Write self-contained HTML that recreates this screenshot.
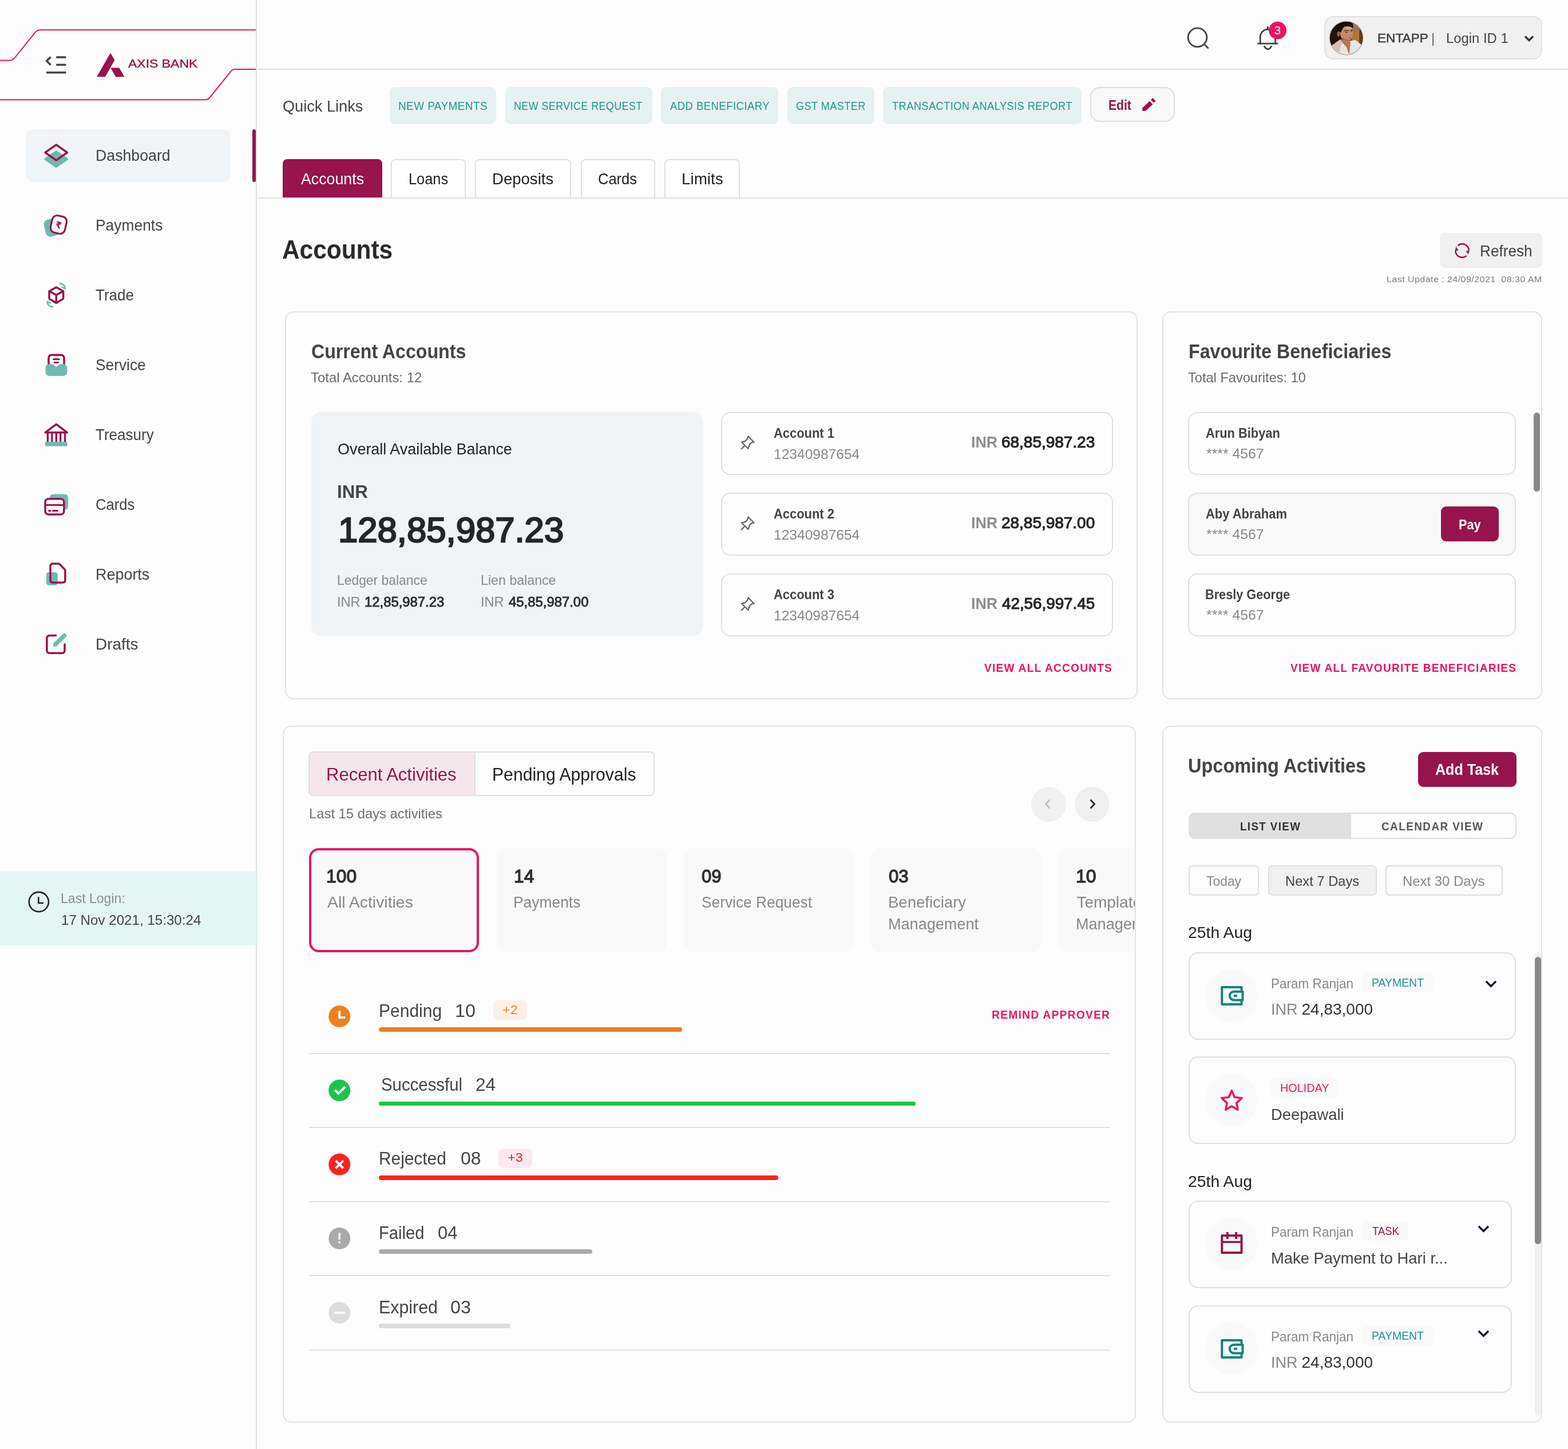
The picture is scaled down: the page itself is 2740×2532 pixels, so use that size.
<!DOCTYPE html>
<html lang="en">
<head>
<meta charset="utf-8">
<title>Axis Bank - Dashboard</title>
<style>
*{box-sizing:border-box;margin:0;padding:0}
html,body{width:2740px;height:2532px;background:#fdfdfd}
body{font-family:"Liberation Sans",sans-serif;position:relative;-webkit-font-smoothing:antialiased}
.b{position:absolute;display:block}
.t{position:absolute;white-space:pre;line-height:1;transform-origin:0 0;display:block;font-weight:400}
svg{overflow:visible}
.clip{position:absolute;overflow:hidden}
</style>
</head>
<body>
<aside aria-label="Sidebar">
<div class="b" style="left:0px;top:1523px;width:450px;height:129px;background:#E4F6F3;"></div>
<div class="b" style="left:447px;top:0px;width:2px;height:2532px;background:#e0e0e0;"></div>
<div class="b" style="left:447px;top:1523px;width:3px;height:129px;background:#dff1ee;"></div>
<div class="b" style="left:45px;top:226px;width:358px;height:92px;background:#F0F4F7;border-radius:14px;"></div>
<div class="b" style="left:440.5px;top:226px;width:6px;height:92px;background:#97144D;border-radius:3px;"></div>
<nav>
<a class="t" style="left:166.69px;top:258px;font-size:28px;color:#444;transform:scaleX(0.9537);">Dashboard</a>
<a class="t" style="left:166.71px;top:380px;font-size:28px;color:#444;transform:scaleX(0.9426);">Payments</a>
<a class="t" style="left:167.00px;top:502px;font-size:28px;color:#444;transform:scaleX(0.9282);">Trade</a>
<a class="t" style="left:167.06px;top:624px;font-size:28px;color:#444;transform:scaleX(0.9396);">Service</a>
<a class="t" style="left:167.00px;top:746px;font-size:28px;color:#444;transform:scaleX(0.9291);">Treasury</a>
<a class="t" style="left:167.08px;top:868px;font-size:28px;color:#444;transform:scaleX(0.9151);">Cards</a>
<a class="t" style="left:166.68px;top:990px;font-size:28px;color:#444;transform:scaleX(0.9621);">Reports</a>
<a class="t" style="left:166.61px;top:1112px;font-size:28px;color:#444;transform:scaleX(0.9972);">Drafts</a>
</nav>
<span class="t" style="left:224.20px;top:101px;font-size:20.8px;color:#97144D;transform:scaleX(1.1055);-webkit-text-stroke:0.4px #97144D;">AXIS BANK</span>
<span class="t" style="left:106.08px;top:1558px;font-size:24px;color:#8a8f8e;transform:scaleX(0.9605);">Last Login:</span>
<span class="t" style="left:106.99px;top:1596px;font-size:24px;color:#444;transform:scaleX(1.0062);">17 Nov 2021, 15:30:24</span>
<svg class="b" style="left:0;top:0" width="2740" height="2532" viewBox="0 0 2740 2532" aria-hidden="true"><g fill="none" stroke="#ED1164" stroke-width="2"><path d="M0 105.4H16.5Q22.2 105.4 25 101.9L62 56.1Q65.1 52.2 70.5 52.2H447"/><path d="M0 174.2H358.5Q363.6 174.2 366.2 171L403.6 124.4Q406.3 121 411 121H447"/></g><g fill="none" stroke="#444" stroke-width="3.6"><path d="M98.2 100H115.4M98.2 113.2H115.4M81 126.7H115.4"/><path d="M88.6 99.6L81.6 106.6L88.6 113.6"/></g><g fill="#97144D"><path d="M193 92.6L200.4 105L183.8 134.2H169Z"/><path d="M193.2 118.6H208.4L217.4 134.2H202.2Z"/></g><path d="M98.3 264.7L117.5 277.9L98.3 291.2L79 277.9Z" fill="#71B8B1" stroke="#71B8B1" stroke-width="3.6" stroke-linejoin="round"/><path d="M98.3 253L117.5 266.5L98.3 280.1L79 266.5Z" fill="none" stroke="#97144D" stroke-width="3.5" stroke-linejoin="round" stroke-linecap="round"/><rect x="78" y="382.5" width="24" height="30.5" rx="8" fill="#71B8B1" transform="rotate(-14 90 397.5)"/><rect x="89.6" y="377.3" width="25.6" height="30.4" rx="8.5" fill="#fdfdfd" stroke="#97144D" stroke-width="3.2" transform="rotate(13 102.4 392.5)"/><text x="102.6" y="399" font-family="DejaVu Sans, sans-serif" font-size="16" font-weight="700" fill="#97144D" text-anchor="middle" transform="rotate(13 102.6 393)">₹</text><path d="M98.3 502L110.6 508.8V521.9L98.3 529.6L86 521.9V508.8ZM86 508.8L98.3 515.5L110.6 508.8M98.3 515.5V529.6" fill="none" stroke="#97144D" stroke-width="3.5" stroke-linejoin="round" stroke-linecap="round"/><g fill="none" stroke="#71B8B1" stroke-width="2.6" stroke-linecap="round" stroke-linejoin="round"><path d="M104.5 495.5Q113.5 496 114 504.5L108.8 501.8"/><path d="M92 536Q83 535.5 82.6 527L87.8 529.7"/></g><path d="M85 642V626.3Q85 620.3 91 620.3H106Q112 620.3 112 626.3V642" fill="none" stroke="#97144D" stroke-width="3.5" stroke-linejoin="round" stroke-linecap="round"/><path d="M93.5 627.8H103.3M95.3 633.4H101.4" fill="none" stroke="#97144D" stroke-width="3" stroke-linecap="round"/><path d="M87.3 636H89.5Q92.5 636 94.5 638Q97.3 641 98.3 641Q99.3 641 102.1 638Q104.1 636 107.1 636H109.4Q117.4 636 117.4 644V649Q117.4 657 109.4 657H87.3Q79.3 657 79.3 649V644Q79.3 636 87.3 636Z" fill="#71B8B1"/><path d="M98.3 741.3L117.3 755.7H79.3Z" fill="none" stroke="#97144D" stroke-width="3.5" stroke-linejoin="round" stroke-linecap="round"/><path d="M83.4 757V772.5M90.8 757V772.5M98.3 757V772.5M105.7 757V772.5M113.5 757V772.5" fill="none" stroke="#97144D" stroke-width="3.3"/><rect x="78.6" y="772.1" width="39.2" height="7.6" rx="2" fill="#71B8B1"/><rect x="86.8" y="863.4" width="32.3" height="27.7" rx="6" fill="#71B8B1"/><rect x="79" y="871.7" width="32.8" height="27.2" rx="5.5" fill="#fdfdfd" stroke="#97144D" stroke-width="3.5"/><path d="M79 882.6H111.8" stroke="#97144D" stroke-width="3" fill="none"/><path d="M85.5 892.5H88.2M92.5 892.5H100.5" stroke="#97144D" stroke-width="3" stroke-linecap="round" fill="none"/><rect x="81" y="999.9" width="19.9" height="22.9" rx="4.5" fill="#71B8B1"/><path d="M92.5 985H101.5Q103.3 985 104.6 986.3L112.6 994.5Q113.9 995.8 113.9 997.6V1013.5Q113.9 1018 109.4 1018H92.5Q88 1018 88 1013.5V989.5Q88 985 92.5 985Z" fill="none" stroke="#97144D" stroke-width="3.5" stroke-linejoin="round" stroke-linecap="round"/><path d="M97.5 1110.5H87Q81.9 1110.5 81.9 1115.6V1136.2Q81.9 1141.3 87 1141.3H108Q113 1141.3 113 1136.2V1125.7" fill="none" stroke="#97144D" stroke-width="3.5" stroke-linejoin="round" stroke-linecap="round"/><path d="M112.5 1110.6L97.3 1125.4" stroke="#71B8B1" stroke-width="7.4" stroke-linecap="round" fill="none"/><path d="M93.3 1129.8L94.6 1122.8L100.2 1128.2Z" fill="#71B8B1" stroke="#71B8B1" stroke-width="1" stroke-linejoin="round"/><g fill="none" stroke="#222" stroke-width="2.6"><circle cx="67.8" cy="1576" r="17.1"/><path d="M67.3 1567.3V1578H76"/></g></svg>
</aside>
<header>
<div class="b" style="left:450px;top:120px;width:2290px;height:2px;background:#e0e0e0;"></div>
<div class="b" style="left:2314px;top:28px;width:381px;height:76px;background:#F0F0F0;border-radius:16px;border:2px solid #e1e1e1;"></div>
<span class="t" style="left:2406.59px;top:56px;font-size:22.5px;color:#444;transform:scaleX(1.0058);-webkit-text-stroke:0.6px #444;">ENTAPP</span>
<span class="t" style="left:2501.00px;top:55px;font-size:24px;color:#666;">|</span>
<span class="t" style="left:2526.57px;top:56px;font-size:23.5px;color:#444;transform:scaleX(1.0144);">Login ID 1</span>
<svg class="b" style="left:0;top:0" width="2740" height="2532" viewBox="0 0 2740 2532" aria-hidden="true"><g fill="none" stroke="#444" stroke-width="2.8" stroke-linecap="round"><circle cx="2092.5" cy="65.5" r="16.4"/><path d="M2104.6 77.6L2110.8 83.8"/></g><g fill="none" stroke="#444" stroke-width="2.8" stroke-linecap="round"><path d="M2198.3 76.1H2232.3"/><path d="M2202.2 76V64.6A13.2 13.2 0 0 1 2228.6 64.6V76"/><path d="M2215.4 47.5V51"/><path d="M2209.3 81.2Q2215.4 90.5 2221.5 81.2"/></g><circle cx="2232.6" cy="53.2" r="15.4" fill="#ED1164"/><defs><clipPath id="av"><circle cx="2352.6" cy="66.5" r="28.8"/></clipPath></defs><circle cx="2352.6" cy="66.5" r="30" fill="#b9b9b9"/><g clip-path="url(#av)"><g transform="translate(2310 26) scale(0.045)"><rect x="200" y="150" width="1500" height="1500" fill="#22130a"/><rect x="1150" y="150" width="550" height="1100" fill="#b0753a"/><rect x="1180" y="490" width="300" height="70" fill="#7d776c"/><rect x="1200" y="610" width="260" height="40" fill="#94805f"/><rect x="1450" y="560" width="140" height="620" fill="#5b3c1f"/><path d="M300 1250L700 960L1130 1000L1300 975L1560 1180L1620 1650H280Z" fill="#e7e5e3"/><path d="M360 1210L700 960L770 1090L640 1560L440 1400Z" fill="#cfc2b6"/><path d="M700 950L1110 1040L1090 1280L1065 1510L1030 1480L960 1260L740 1020Z" fill="#b9794f"/><path d="M820 450Q1000 400 1190 440L1200 720L1185 820L1150 920L1100 1020Q980 1060 900 1010L770 930L720 800L700 700L760 560Z" fill="#c48d6a"/><ellipse cx="1020" cy="520" rx="130" ry="60" fill="#dbab8a" opacity=".85"/><path d="M770 920Q900 1030 1100 1020L1115 960Q950 985 800 870Z" fill="#8a5a3c" opacity=".55"/><ellipse cx="645" cy="740" rx="58" ry="105" fill="#96603f"/><path d="M560 640V450Q640 320 800 290Q1000 250 1190 330L1215 450L1190 520Q1100 430 900 450Q820 470 790 580L730 690L690 650Q640 620 590 670Z" fill="#140d07"/><path d="M860 625Q960 580 1055 612M1110 602Q1160 580 1200 592" fill="none" stroke="#3a2416" stroke-width="26"/><ellipse cx="950" cy="672" rx="45" ry="18" fill="#2a1a10"/><ellipse cx="1150" cy="632" rx="30" ry="14" fill="#2a1a10"/><ellipse cx="1100" cy="900" rx="58" ry="22" fill="#a0574a"/></g></g><path d="M2665 63.5L2672 70.5L2679 63.5" fill="none" stroke="#333" stroke-width="3.4"/></svg>
<span class="t" style="left:2226.60px;top:42px;font-size:21px;color:#fff;">3</span>
</header>
<section aria-label="Quick Links">
<h2 class="t" style="left:494.13px;top:172px;font-size:28px;color:#444;transform:scaleX(0.9699);">Quick Links</h2>
<div class="b" style="left:681px;top:152px;width:186px;height:65px;background:#E6F2F1;border-radius:9px;"></div>
<a class="t" style="left:696.13px;top:176px;font-size:19.5px;color:#1E968A;letter-spacing:0.5px;transform:scaleX(0.9673);">NEW PAYMENTS</a>
<div class="b" style="left:883px;top:152px;width:256.5px;height:65px;background:#E6F2F1;border-radius:9px;"></div>
<a class="t" style="left:897.88px;top:176px;font-size:19.5px;color:#1E968A;letter-spacing:0.5px;transform:scaleX(0.9156);">NEW SERVICE REQUEST</a>
<div class="b" style="left:1155px;top:152px;width:205px;height:65px;background:#E6F2F1;border-radius:9px;"></div>
<a class="t" style="left:1170.50px;top:176px;font-size:19.5px;color:#1E968A;letter-spacing:0.5px;transform:scaleX(0.9464);">ADD BENEFICIARY</a>
<div class="b" style="left:1376px;top:152px;width:152px;height:65px;background:#E6F2F1;border-radius:9px;"></div>
<a class="t" style="left:1390.67px;top:176px;font-size:19.5px;color:#1E968A;letter-spacing:0.5px;transform:scaleX(0.9256);">GST MASTER</a>
<div class="b" style="left:1543px;top:152px;width:346.5px;height:65px;background:#E6F2F1;border-radius:9px;"></div>
<a class="t" style="left:1559.30px;top:176px;font-size:19.5px;color:#1E968A;letter-spacing:0.5px;transform:scaleX(0.9320);">TRANSACTION ANALYSIS REPORT</a>
<div class="b" style="left:1905px;top:152px;width:148px;height:61px;background:#F9F9F9;border-radius:17px;border:2px solid #dedede;"></div>
<span class="t" style="left:1937.12px;top:172px;font-size:24px;color:#97144D;font-weight:700;transform:scaleX(0.8795);">Edit</span>
<svg class="b" style="left:0;top:0" width="2740" height="2532" viewBox="0 0 2740 2532" aria-hidden="true"><g fill="#97144D"><path d="M1996.2 193.8V188.5L2009 176.6L2014.4 182.2L2002 193.8Z"/><path d="M2011 174.5L2014.2 171.2L2019.4 176.3L2016.2 179.6Z"/></g></svg>
</section>
<nav aria-label="Product tabs">
<div class="b" style="left:494px;top:278px;width:174px;height:67px;background:#97144D;border-radius:8px 8px 0 0;"></div>
<a class="t" style="left:526.10px;top:299px;font-size:28px;color:#fff;transform:scaleX(0.9557);">Accounts</a>
<div class="b" style="left:683px;top:278px;width:131px;height:67px;background:#fff;border-radius:8px 8px 0 0;border:2px solid #e0e0e0;border-bottom:none;"></div>
<a class="t" style="left:713.59px;top:299px;font-size:28px;color:#222;transform:scaleX(0.9054);">Loans</a>
<div class="b" style="left:830px;top:278px;width:168px;height:67px;background:#fff;border-radius:8px 8px 0 0;border:2px solid #e0e0e0;border-bottom:none;"></div>
<a class="t" style="left:859.53px;top:299px;font-size:28px;color:#222;transform:scaleX(0.9840);">Deposits</a>
<div class="b" style="left:1015px;top:278px;width:130px;height:67px;background:#fff;border-radius:8px 8px 0 0;border:2px solid #e0e0e0;border-bottom:none;"></div>
<a class="t" style="left:1045.09px;top:299px;font-size:28px;color:#222;transform:scaleX(0.9110);">Cards</a>
<div class="b" style="left:1161px;top:278px;width:132px;height:67px;background:#fff;border-radius:8px 8px 0 0;border:2px solid #e0e0e0;border-bottom:none;"></div>
<a class="t" style="left:1190.61px;top:299px;font-size:28px;color:#222;transform:scaleX(0.9929);">Limits</a>
<div class="b" style="left:450px;top:345px;width:2290px;height:2px;background:#e0e0e0;"></div>
</nav>
<main>
<h1 class="t" style="left:493.08px;top:413px;font-size:46px;color:#2a2a2a;font-weight:700;transform:scaleX(0.9217);">Accounts</h1>
<div class="b" style="left:2516px;top:406.6px;width:179px;height:61.4px;background:#F0F0F0;border-radius:9px;"></div>
<span class="t" style="left:2585.63px;top:425px;font-size:28px;color:#444;transform:scaleX(0.9347);">Refresh</span>
<span class="t" style="left:2422.76px;top:480px;font-size:15.5px;color:#7c7c7c;letter-spacing:0.4px;transform:scaleX(1.0377);">Last Update : 24/09/2021  08:30 AM</span>
<svg class="b" style="left:0;top:0" width="2740" height="2532" viewBox="0 0 2740 2532" aria-hidden="true"><g fill="none" stroke="#97144D" stroke-width="2.5"><path d="M2547.6 429A11.7 11.7 0 0 1 2566.8 438"/><path d="M2562.6 447A11.7 11.7 0 0 1 2543.4 438"/></g><g fill="#97144D"><path d="M2561.7 438.2H2567.8L2565.3 444.6Z"/><path d="M2542.5 438H2548.5L2544.4 431.1Z"/></g></svg>
<section aria-label="Current Accounts">
<div class="b" style="left:498px;top:544px;width:1490px;height:678px;background:#fdfdfd;border-radius:15px;border:2px solid #e2e2e2;"></div>
<h2 class="t" style="left:543.58px;top:596px;font-size:35px;color:#444;font-weight:700;transform:scaleX(0.9185);">Current Accounts</h2>
<span class="t" style="left:543.40px;top:648px;font-size:24px;color:#6a6a6a;transform:scaleX(0.9974);">Total Accounts: 12</span>
<div class="b" style="left:544px;top:720px;width:685px;height:391px;background:#F0F4F7;border-radius:16px;"></div>
<span class="t" style="left:590.02px;top:771px;font-size:27.5px;color:#222;transform:scaleX(0.9790);">Overall Available Balance</span>
<span class="t" style="left:589.35px;top:844px;font-size:30.5px;color:#444;font-weight:700;transform:scaleX(1.0240);">INR</span>
<span class="t" style="left:590.56px;top:896px;font-size:61px;color:#262626;transform:scaleX(1.0104);-webkit-text-stroke:2.4px #262626;">128,85,987.23</span>
<span class="t" style="left:589.09px;top:1002px;font-size:24px;color:#888;transform:scaleX(0.9528);">Ledger balance</span>
<span class="t" style="left:589.04px;top:1040px;font-size:24px;color:#888;transform:scaleX(0.9816);">INR</span>
<span class="t" style="left:637.39px;top:1041px;font-size:23.5px;color:#303030;transform:scaleX(1.0147);-webkit-text-stroke:0.95px #303030;">12,85,987.23</span>
<span class="t" style="left:840.07px;top:1002px;font-size:24px;color:#888;transform:scaleX(0.9662);">Lien balance</span>
<span class="t" style="left:840.04px;top:1040px;font-size:24px;color:#888;transform:scaleX(0.9816);">INR</span>
<span class="t" style="left:888.80px;top:1041px;font-size:23.5px;color:#303030;transform:scaleX(1.0161);-webkit-text-stroke:0.95px #303030;">45,85,987.00</span>
<div class="b" style="left:1260px;top:720px;width:685px;height:110px;background:#fdfdfd;border-radius:16px;border:2px solid #e0e0e0;"></div>
<span class="t" style="left:1352.00px;top:745px;font-size:24px;color:#444;font-weight:700;transform:scaleX(0.9129);">Account 1</span>
<span class="t" style="left:1351.98px;top:782px;font-size:24px;color:#888;transform:scaleX(1.0233);">12340987654</span>
<span class="t" style="left:1697.44px;top:759px;font-size:28px;color:#8e8e8e;font-weight:700;transform:scaleX(0.9596);">INR</span>
<span class="t" style="left:1750.38px;top:759px;font-size:27.5px;color:#262626;transform:scaleX(1.0164);-webkit-text-stroke:1.1px #262626;">68,85,987.23</span>
<div class="b" style="left:1260px;top:861px;width:685px;height:110px;background:#fdfdfd;border-radius:16px;border:2px solid #e0e0e0;"></div>
<span class="t" style="left:1352.00px;top:886px;font-size:24px;color:#444;font-weight:700;transform:scaleX(0.9129);">Account 2</span>
<span class="t" style="left:1351.98px;top:923px;font-size:24px;color:#888;transform:scaleX(1.0233);">12340987654</span>
<span class="t" style="left:1697.44px;top:900px;font-size:28px;color:#8e8e8e;font-weight:700;transform:scaleX(0.9596);">INR</span>
<span class="t" style="left:1750.38px;top:900px;font-size:27.5px;color:#262626;transform:scaleX(1.0164);-webkit-text-stroke:1.1px #262626;">28,85,987.00</span>
<div class="b" style="left:1260px;top:1002px;width:685px;height:110px;background:#fdfdfd;border-radius:16px;border:2px solid #e0e0e0;"></div>
<span class="t" style="left:1352.00px;top:1027px;font-size:24px;color:#444;font-weight:700;transform:scaleX(0.9129);">Account 3</span>
<span class="t" style="left:1351.98px;top:1064px;font-size:24px;color:#888;transform:scaleX(1.0233);">12340987654</span>
<span class="t" style="left:1697.44px;top:1041px;font-size:28px;color:#8e8e8e;font-weight:700;transform:scaleX(0.9596);">INR</span>
<span class="t" style="left:1751.40px;top:1041px;font-size:27.5px;color:#262626;transform:scaleX(1.0100);-webkit-text-stroke:1.1px #262626;">42,56,997.45</span>
<svg class="b" style="left:0;top:0" width="2740" height="2532" viewBox="0 0 2740 2532" aria-hidden="true"><g transform="translate(0 0)" fill="none" stroke="#666" stroke-width="2.3" stroke-linejoin="round" stroke-linecap="round"><path d="M1307.4 762.4L1317.6 772.7Q1312 772.6 1309.4 778Q1308.5 781.5 1307.4 784L1296 772.7Q1301 772 1303.5 770Q1306.8 767 1307.4 762.4Z"/><path d="M1301.5 778.5L1295.6 784.4"/></g><g transform="translate(0 141)" fill="none" stroke="#666" stroke-width="2.3" stroke-linejoin="round" stroke-linecap="round"><path d="M1307.4 762.4L1317.6 772.7Q1312 772.6 1309.4 778Q1308.5 781.5 1307.4 784L1296 772.7Q1301 772 1303.5 770Q1306.8 767 1307.4 762.4Z"/><path d="M1301.5 778.5L1295.6 784.4"/></g><g transform="translate(0 282)" fill="none" stroke="#666" stroke-width="2.3" stroke-linejoin="round" stroke-linecap="round"><path d="M1307.4 762.4L1317.6 772.7Q1312 772.6 1309.4 778Q1308.5 781.5 1307.4 784L1296 772.7Q1301 772 1303.5 770Q1306.8 767 1307.4 762.4Z"/><path d="M1301.5 778.5L1295.6 784.4"/></g></svg>
<a class="t" style="left:1719.90px;top:1157px;font-size:20px;color:#ED1164;font-weight:700;letter-spacing:1.3px;transform:scaleX(0.9549);">VIEW ALL ACCOUNTS</a>
</section>
<section aria-label="Favourite Beneficiaries">
<div class="b" style="left:2031px;top:544px;width:664px;height:678px;background:#fdfdfd;border-radius:15px;border:2px solid #e2e2e2;"></div>
<h2 class="t" style="left:2076.96px;top:596px;font-size:35px;color:#444;font-weight:700;transform:scaleX(0.9202);">Favourite Beneficiaries</h2>
<span class="t" style="left:2076.00px;top:648px;font-size:24px;color:#6a6a6a;transform:scaleX(0.9833);">Total Favourites: 10</span>
<div class="b" style="left:2076px;top:720px;width:573px;height:110px;background:#fdfdfd;border-radius:16px;border:2px solid #e0e0e0;"></div>
<span class="t" style="left:2107.00px;top:745px;font-size:24px;color:#444;font-weight:700;transform:scaleX(0.9099);">Arun Bibyan</span>
<span class="t" style="left:2108.30px;top:781px;font-size:24px;color:#888;transform:scaleX(1.0330);">**** 4567</span>
<div class="b" style="left:2076px;top:861px;width:573px;height:110px;background:#F9F9F9;border-radius:16px;border:2px solid #e0e0e0;"></div>
<span class="t" style="left:2107.00px;top:886px;font-size:24px;color:#444;font-weight:700;transform:scaleX(0.9149);">Aby Abraham</span>
<span class="t" style="left:2108.30px;top:922px;font-size:24px;color:#888;transform:scaleX(1.0330);">**** 4567</span>
<div class="b" style="left:2076px;top:1002px;width:573px;height:110px;background:#fdfdfd;border-radius:16px;border:2px solid #e0e0e0;"></div>
<span class="t" style="left:2106.10px;top:1027px;font-size:24px;color:#444;font-weight:700;transform:scaleX(0.9031);">Bresly George</span>
<span class="t" style="left:2108.30px;top:1063px;font-size:24px;color:#888;transform:scaleX(1.0330);">**** 4567</span>
<div class="b" style="left:2518px;top:885px;width:101px;height:61px;background:#97144D;border-radius:9px;"></div>
<span class="t" style="left:2548.70px;top:905px;font-size:24px;color:#fff;font-weight:700;transform:scaleX(0.9048);">Pay</span>
<div class="b" style="left:2680px;top:721px;width:11px;height:138px;background:#888;border-radius:5.5px;"></div>
<a class="t" style="left:2254.60px;top:1157px;font-size:20px;color:#ED1164;font-weight:700;letter-spacing:1.3px;transform:scaleX(0.9530);">VIEW ALL FAVOURITE BENEFICIARIES</a>
</section>
<section aria-label="Recent Activities">
<div class="b" style="left:494px;top:1268px;width:1491px;height:1218px;background:#fdfdfd;border-radius:15px;border:2px solid #e2e2e2;"></div>
<div class="b" style="left:539px;top:1313px;width:605px;height:78px;background:#fdfdfd;border-radius:8px;border:2px solid #dfdfdf;"></div>
<div class="b" style="left:540.5px;top:1314.5px;width:288.5px;height:75px;background:#F5E6EC;border-radius:6px 0 0 6px;"></div>
<div class="b" style="left:828.5px;top:1314px;width:2px;height:76px;background:#dfdfdf;"></div>
<span class="t" style="left:570.03px;top:1338px;font-size:31.5px;color:#97144D;transform:scaleX(0.9846);">Recent Activities</span>
<span class="t" style="left:859.89px;top:1338px;font-size:31.5px;color:#222;transform:scaleX(0.9573);">Pending Approvals</span>
<span class="t" style="left:539.82px;top:1410px;font-size:24px;color:#6e6e6e;transform:scaleX(0.9918);">Last 15 days activities</span>
<div class="b" style="left:1801.5px;top:1374.5px;width:61px;height:61px;background:#F0F0F0;border-radius:31px;"></div>
<div class="b" style="left:1878px;top:1374.5px;width:61px;height:61px;background:#F0F0F0;border-radius:31px;"></div>
<svg class="b" style="left:0;top:0" width="2740" height="2532" viewBox="0 0 2740 2532" aria-hidden="true"><path d="M1834.5 1397.5L1827.5 1405L1834.5 1412.5" fill="none" stroke="#bbb" stroke-width="2.6"/><path d="M1905.5 1397.5L1912.5 1405L1905.5 1412.5" fill="none" stroke="#222" stroke-width="2.6"/></svg>
<div class="b" style="left:540.3px;top:1481.5px;width:297px;height:182px;background:#F9F9F9;border-radius:17px;border:4px solid #ED1164;"></div>
<span class="t" style="left:570.48px;top:1516px;font-size:31.5px;color:#303030;transform:scaleX(1.0120);-webkit-text-stroke:1.3px #303030;">100</span>
<span class="t" style="left:572.10px;top:1563px;font-size:28px;color:#888;transform:scaleX(1.0136);">All Activities</span>
<div class="b" style="left:867.5px;top:1481.5px;width:297px;height:182px;background:#F9F9F9;border-radius:17px;"></div>
<span class="t" style="left:897.69px;top:1516px;font-size:31.5px;color:#303030;transform:scaleX(1.0062);-webkit-text-stroke:1.3px #303030;">14</span>
<span class="t" style="left:897.41px;top:1563px;font-size:28px;color:#888;transform:scaleX(0.9426);">Payments</span>
<div class="b" style="left:1194.6999999999998px;top:1481.5px;width:297px;height:182px;background:#F9F9F9;border-radius:17px;"></div>
<span class="t" style="left:1225.91px;top:1516px;font-size:31.5px;color:#303030;transform:scaleX(0.9879);-webkit-text-stroke:1.3px #303030;">09</span>
<span class="t" style="left:1225.56px;top:1563px;font-size:28px;color:#888;transform:scaleX(0.9395);">Service Request</span>
<div class="b" style="left:1521.8999999999999px;top:1481.5px;width:297px;height:182px;background:#F9F9F9;border-radius:17px;"></div>
<span class="t" style="left:1553.11px;top:1516px;font-size:31.5px;color:#303030;transform:scaleX(0.9879);-webkit-text-stroke:1.3px #303030;">03</span>
<span class="t" style="left:1551.74px;top:1563px;font-size:28px;color:#888;transform:scaleX(0.9825);">Beneficiary</span>
<span class="t" style="left:1551.77px;top:1601px;font-size:28px;color:#888;transform:scaleX(0.9667);">Management</span>
<div class="clip" style="left:1849px;top:1481px;width:134px;height:183px">
<div class="b" style="left:0px;top:0.5px;width:297px;height:182px;background:#F9F9F9;border-radius:17px;"></div>
<span class="t" style="left:30.76px;top:35px;font-size:31.5px;color:#303030;transform:scaleX(1.0188);-webkit-text-stroke:1.3px #303030;">10</span>
<span class="t" style="left:32.40px;top:82px;font-size:28px;color:#888;">Template</span>
<span class="t" style="left:30.67px;top:120px;font-size:28px;color:#888;transform:scaleX(0.9667);">Management</span>
</div>
<span class="t" style="left:661.86px;top:1751px;font-size:31px;color:#444;transform:scaleX(0.9682);">Pending</span>
<span class="t" style="left:794.92px;top:1751px;font-size:31px;color:#444;transform:scaleX(1.0406);">10</span>
<div class="b" style="left:862px;top:1748px;width:59px;height:34px;background:#FDF0E8;border-radius:8px;"></div>
<span class="t" style="left:878.18px;top:1754px;font-size:22px;color:#EE8022;transform:scaleX(1.0652);">+2</span>
<div class="b" style="left:662px;top:1795.2px;width:529.5px;height:7.6px;background:#EE8022;border-radius:4px;"></div>
<div class="b" style="left:540px;top:1840px;width:1399.5px;height:2px;background:#e0e0e0;"></div>
<span class="t" style="left:666.05px;top:1880px;font-size:31px;color:#444;transform:scaleX(0.9476);">Successful</span>
<span class="t" style="left:831.18px;top:1880px;font-size:31px;color:#444;transform:scaleX(1.0212);">24</span>
<div class="b" style="left:662px;top:1924.6000000000001px;width:938px;height:7.6px;background:#1FC24E;border-radius:4px;"></div>
<div class="b" style="left:540px;top:1969.4px;width:1399.5px;height:2px;background:#e0e0e0;"></div>
<span class="t" style="left:661.88px;top:2009px;font-size:31px;color:#444;transform:scaleX(0.9622);">Rejected</span>
<span class="t" style="left:804.77px;top:2009px;font-size:31px;color:#444;transform:scaleX(1.0281);">08</span>
<div class="b" style="left:871px;top:2006.8px;width:59px;height:34px;background:#FCE9ED;border-radius:8px;"></div>
<span class="t" style="left:887.18px;top:2012px;font-size:22px;color:#F0202A;transform:scaleX(1.0652);">+3</span>
<div class="b" style="left:662px;top:2054.0px;width:698px;height:7.6px;background:#FF2121;border-radius:4px;"></div>
<div class="b" style="left:540px;top:2098.8px;width:1399.5px;height:2px;background:#e0e0e0;"></div>
<span class="t" style="left:661.92px;top:2139px;font-size:31px;color:#444;transform:scaleX(0.9395);">Failed</span>
<span class="t" style="left:764.80px;top:2139px;font-size:31px;color:#444;transform:scaleX(0.9970);">04</span>
<div class="b" style="left:662px;top:2183.2px;width:373px;height:7.6px;background:#AAAAAA;border-radius:4px;"></div>
<div class="b" style="left:540px;top:2228px;width:1399.5px;height:2px;background:#e0e0e0;"></div>
<span class="t" style="left:661.84px;top:2269px;font-size:31px;color:#444;transform:scaleX(0.9792);">Expired</span>
<span class="t" style="left:787.16px;top:2269px;font-size:31px;color:#444;transform:scaleX(1.0406);">03</span>
<div class="b" style="left:662px;top:2313.2px;width:230px;height:7.6px;background:#DDDDDD;border-radius:4px;"></div>
<div class="b" style="left:540px;top:2358px;width:1399.5px;height:2px;background:#e0e0e0;"></div>
<svg class="b" style="left:0;top:0" width="2740" height="2532" viewBox="0 0 2740 2532" aria-hidden="true"><circle cx="593.2" cy="1776" r="19" fill="#EE8022"/><circle cx="593.2" cy="1905.4" r="19" fill="#1FC24E"/><circle cx="593.2" cy="2034.8" r="19" fill="#FF2121"/><circle cx="593.2" cy="2164" r="19" fill="#AAAAAA"/><circle cx="593.2" cy="2294" r="19" fill="#DDDDDD"/><path d="M593.2 1766.2V1778.1H603.2" fill="none" stroke="#fff" stroke-width="4"/><path d="M585.3 1904.7L591.4 1910.6L603.2 1898.8" fill="none" stroke="#fff" stroke-width="4"/><path d="M586.6 2028.2L599.8 2041.4M599.8 2028.2L586.6 2041.4" fill="none" stroke="#fff" stroke-width="4"/><path d="M593.2 2154.5V2166" fill="none" stroke="#fff" stroke-width="3.2"/><rect x="591.6" y="2169" width="3.2" height="3.4" fill="#fff"/><path d="M583.7 2294H602.7" fill="none" stroke="#fff" stroke-width="3.6"/></svg>
<a class="t" style="left:1732.94px;top:1763px;font-size:20px;color:#ED1164;font-weight:700;letter-spacing:1.3px;transform:scaleX(0.9620);">REMIND APPROVER</a>
</section>
<section aria-label="Upcoming Activities">
<div class="b" style="left:2031px;top:1268px;width:664px;height:1218px;background:#fdfdfd;border-radius:15px;border:2px solid #e2e2e2;"></div>
<h2 class="t" style="left:2076.14px;top:1320px;font-size:35px;color:#444;font-weight:700;transform:scaleX(0.9283);">Upcoming Activities</h2>
<div class="b" style="left:2478px;top:1313.5px;width:171.5px;height:61px;background:#97144D;border-radius:9px;"></div>
<span class="t" style="left:2507.62px;top:1330px;font-size:28.5px;color:#fff;font-weight:700;transform:scaleX(0.8800);">Add Task</span>
<div class="b" style="left:2077px;top:1420px;width:572.5px;height:45.5px;background:#fdfdfd;border-radius:11px;border:2px solid #dedede;"></div>
<div class="b" style="left:2077px;top:1420px;width:284px;height:45.5px;background:#E0E0E0;border-radius:11px 4px 4px 11px;"></div>
<span class="t" style="left:2166.56px;top:1434px;font-size:20px;color:#333;font-weight:700;letter-spacing:1.5px;transform:scaleX(0.9369);">LIST VIEW</span>
<span class="t" style="left:2414.45px;top:1434px;font-size:20px;color:#555;font-weight:700;letter-spacing:1.5px;transform:scaleX(0.9468);">CALENDAR VIEW</span>
<div class="b" style="left:2077px;top:1512px;width:123px;height:52.5px;background:#fdfdfd;border-radius:7px;border:2px solid #dedede;"></div>
<div class="b" style="left:2215.5px;top:1512px;width:190px;height:52.5px;background:#F0F0F0;border-radius:7px;border:2px solid #dedede;"></div>
<div class="b" style="left:2421px;top:1512px;width:205px;height:52.5px;background:#fdfdfd;border-radius:7px;border:2px solid #dedede;"></div>
<span class="t" style="left:2108.30px;top:1528px;font-size:24px;color:#888;transform:scaleX(0.9531);">Today</span>
<span class="t" style="left:2245.82px;top:1528px;font-size:24px;color:#444;transform:scaleX(0.9883);">Next 7 Days</span>
<span class="t" style="left:2451.11px;top:1528px;font-size:24px;color:#888;transform:scaleX(0.9965);">Next 30 Days</span>
<span class="t" style="left:2076.35px;top:1617px;font-size:27px;color:#222;transform:scaleX(1.0500);">25th Aug</span>
<span class="t" style="left:2076.35px;top:2052px;font-size:27px;color:#222;transform:scaleX(1.0500);">25th Aug</span>
<div class="b" style="left:2682px;top:1664px;width:11px;height:810px;background:#F0F0F0;border-radius:5.5px;"></div>
<div class="b" style="left:2682px;top:1671.5px;width:11px;height:502px;background:#888;border-radius:5.5px;"></div>
<div class="b" style="left:2077px;top:1663.5px;width:572px;height:153px;background:#fdfdfd;border-radius:17px;border:2px solid #e0e0e0;"></div>
<div class="b" style="left:2107px;top:1694.0px;width:91px;height:91px;background:#F9F9F9;border-radius:46px;"></div>
<span class="t" style="left:2221.12px;top:1707px;font-size:24px;color:#888;transform:scaleX(0.9387);">Param Ranjan</span>
<div class="b" style="left:2381px;top:1700.0px;width:123.3px;height:33.5px;background:#F9F9F9;border-radius:7px;"></div>
<span class="t" style="left:2396.63px;top:1707px;font-size:20px;color:#1E968A;transform:scaleX(0.9710);">PAYMENT</span>
<span class="t" style="left:2221.07px;top:1750px;font-size:28px;color:#888;transform:scaleX(0.9644);">INR</span>
<span class="t" style="left:2274.50px;top:1750px;font-size:28px;color:#333;">24,83,000</span>
<div class="b" style="left:2077px;top:1846px;width:572px;height:153px;background:#fdfdfd;border-radius:17px;border:2px solid #e0e0e0;"></div>
<div class="b" style="left:2107px;top:1876.5px;width:91px;height:91px;background:#F9F9F9;border-radius:46px;"></div>
<div class="b" style="left:2221px;top:1883px;width:118px;height:34px;background:#F9F9F9;border-radius:7px;"></div>
<span class="t" style="left:2236.81px;top:1891px;font-size:20px;color:#ED1164;transform:scaleX(0.9918);">HOLIDAY</span>
<span class="t" style="left:2221.05px;top:1934px;font-size:28px;color:#444;transform:scaleX(0.9764);">Deepawali</span>
<div class="b" style="left:2077px;top:2097.5px;width:564.5px;height:153px;background:#fdfdfd;border-radius:17px;border:2px solid #e0e0e0;"></div>
<div class="b" style="left:2107px;top:2128.0px;width:91px;height:91px;background:#F9F9F9;border-radius:46px;"></div>
<span class="t" style="left:2221.12px;top:2141px;font-size:24px;color:#888;transform:scaleX(0.9387);">Param Ranjan</span>
<div class="b" style="left:2381px;top:2134.0px;width:80.0px;height:33.5px;background:#F9F9F9;border-radius:7px;"></div>
<span class="t" style="left:2397.60px;top:2141px;font-size:20px;color:#97144D;transform:scaleX(0.9216);">TASK</span>
<span class="t" style="left:2221.04px;top:2185px;font-size:28px;color:#444;transform:scaleX(0.9776);">Make Payment to Hari r...</span>
<div class="b" style="left:2077px;top:2280.5px;width:564.5px;height:153px;background:#fdfdfd;border-radius:17px;border:2px solid #e0e0e0;"></div>
<div class="b" style="left:2107px;top:2311.0px;width:91px;height:91px;background:#F9F9F9;border-radius:46px;"></div>
<span class="t" style="left:2221.12px;top:2324px;font-size:24px;color:#888;transform:scaleX(0.9387);">Param Ranjan</span>
<div class="b" style="left:2381px;top:2317.0px;width:123.3px;height:33.5px;background:#F9F9F9;border-radius:7px;"></div>
<span class="t" style="left:2396.63px;top:2324px;font-size:20px;color:#1E968A;transform:scaleX(0.9710);">PAYMENT</span>
<span class="t" style="left:2221.07px;top:2367px;font-size:28px;color:#888;transform:scaleX(0.9644);">INR</span>
<span class="t" style="left:2274.50px;top:2367px;font-size:28px;color:#333;">24,83,000</span>
<svg class="b" style="left:0;top:0" width="2740" height="2532" viewBox="0 0 2740 2532" aria-hidden="true"><path d="M2596.8 1714.7L2605.4 1723.3L2614.0 1714.7" fill="none" stroke="#111827" stroke-width="3.4"/><g transform="translate(0 0.0)" fill="none" stroke="#10857B" stroke-width="4" stroke-linejoin="round"><rect x="2135.3" y="1725" width="34.2" height="30"/><path d="M2171.5 1732.7H2156.2A7.35 7.35 0 0 0 2156.2 1747.4H2171.5Z" fill="#fdfdfd"/><rect x="2156" y="1738.2" width="6" height="3.8" fill="#10857B" stroke="none"/></g><path d="M2152.4 1905.6L2157.3 1917.3L2169.9 1918.7L2160.8 1927.4L2162.9 1939.3L2152.4 1933L2141.9 1939.3L2144 1927.4L2134.9 1918.7L2147.5 1917.3Z" fill="none" stroke="#ED1164" stroke-width="3.6" stroke-linejoin="round"/><path d="M2583.8 2142.7L2592.4 2151.3L2601.0 2142.7" fill="none" stroke="#111827" stroke-width="3.4"/><g fill="none" stroke="#97144D" stroke-width="4" stroke-linejoin="round"><rect x="2135.3" y="2159" width="34.2" height="30.1"/><path d="M2135.3 2170.2H2169.5" stroke-width="3.6"/><path d="M2144.8 2153V2165M2160.1 2153V2165"/></g><path d="M2583.8 2325.7L2592.4 2334.3L2601.0 2325.7" fill="none" stroke="#111827" stroke-width="3.4"/><g transform="translate(0 617.0)" fill="none" stroke="#10857B" stroke-width="4" stroke-linejoin="round"><rect x="2135.3" y="1725" width="34.2" height="30"/><path d="M2171.5 1732.7H2156.2A7.35 7.35 0 0 0 2156.2 1747.4H2171.5Z" fill="#fdfdfd"/><rect x="2156" y="1738.2" width="6" height="3.8" fill="#10857B" stroke="none"/></g></svg>
</section>
</main>
</body>
</html>
